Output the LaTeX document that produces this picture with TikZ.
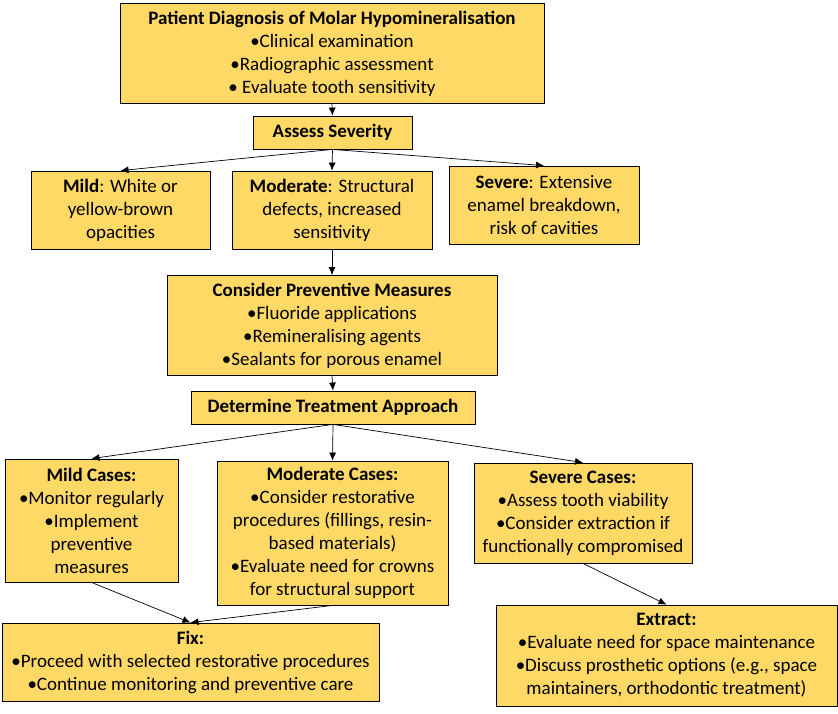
\documentclass[tikz,border=0pt]{standalone}
\usepackage{fontspec}
\setmainfont{Carlito}
\usetikzlibrary{arrows.meta}
\definecolor{boxfill}{HTML}{FFD966}
\begin{document}
\begin{tikzpicture}[x=1pt,y=-1pt,
  font=\fontsize{19}{23}\selectfont,
  box/.style={draw=black,fill=boxfill,line width=0.8pt,align=center,inner sep=2pt},
  link/.style={-{Latex[length=8pt,width=7pt]},line width=0.7pt}]
  \useasboundingbox (0,0) rectangle (838,713);
  % top row
  \node[box,minimum width=424pt,minimum height=100pt] (diag) at (332,53.5)
    {\textbf{Patient Diagnosis of Molar Hypomineralisation}\\
     •Clinical examination\\ •Radiographic assessment\\ • Evaluate tooth sensitivity};
  \node[box,minimum width=159pt,minimum height=33pt] (assess) at (332.5,132.5) {\textbf{Assess Severity}};
  % severity levels
  \node[box,minimum width=179pt,minimum height=78pt] (mild) at (120.5,210)
    {\textbf{Mild}: White or\\ yellow-brown\\ opacities};
  \node[box,minimum width=200pt,minimum height=78pt] (moderate) at (332,210)
    {\textbf{Moderate}: Structural\\ defects, increased\\ sensitivity};
  \node[box,minimum width=190pt,minimum height=78pt] (severe) at (544,205)
    {\textbf{Severe}: Extensive\\ enamel breakdown,\\ risk of cavities};
  \node[box,minimum width=330pt,minimum height=100pt] (prevent) at (332,325.5)
    {\textbf{Consider Preventive Measures}\\ •Fluoride applications\\
     •Remineralising agents\\ •Sealants for porous enamel};
  \node[box,minimum width=284pt,minimum height=33pt] (approach) at (333,407.5) {\textbf{Determine Treatment Approach}};
  % cases
  \node[box,minimum width=173pt,minimum height=123pt] (mildcase) at (91.5,520.5)
    {\textbf{Mild Cases:}\\ •Monitor regularly\\ •Implement\\ preventive\\ measures};
  \node[box,minimum width=231pt,minimum height=144pt] (modcase) at (332.5,533)
    {\textbf{Moderate Cases:}\\ •Consider restorative\\ procedures (fillings, resin-\\
     based materials)\\ •Evaluate need for crowns\\ for structural support};
  \node[box,minimum width=218pt,minimum height=100pt] (sevcase) at (583,513)
    {\textbf{Severe Cases:}\\ •Assess tooth viability\\ •Consider extraction if\\ functionally compromised};
  % outcomes
  \node[box,minimum width=377pt,minimum height=78pt] (fix) at (190.5,662)
    {\textbf{Fix:}\\ •Proceed with selected restorative procedures\\ •Continue monitoring and preventive care};
  \node[box,minimum width=341pt,minimum height=101pt] (extract) at (666.5,655.5)
    {\textbf{Extract:}\\ •Evaluate need for space maintenance\\
     •Discuss prosthetic options (e.g., space\\ maintainers, orthodontic treatment)};
  \foreach \a/\b in {diag/assess,assess/mild,assess/moderate,assess/severe,
    moderate/prevent,prevent/approach,approach/mildcase,approach/modcase,
    approach/sevcase,mildcase/fix,modcase/fix,sevcase/extract}
    \draw[link] (\a.south) -- (\b.north);
\end{tikzpicture}
\end{document}
